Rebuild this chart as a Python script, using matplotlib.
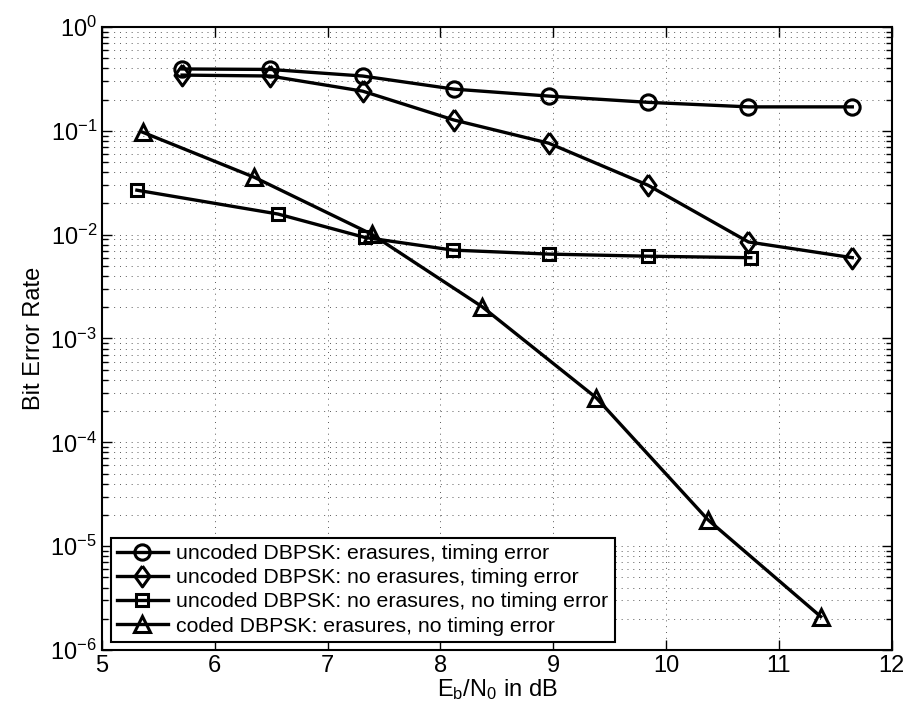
import matplotlib
matplotlib.use("Agg")
import matplotlib.pyplot as plt
from matplotlib.ticker import FixedLocator, NullFormatter, LogFormatterSciNotation

plt.rcParams["font.family"] = ["Liberation Sans", "DejaVu Sans"]
plt.rcParams["mathtext.default"] = "regular"

# Eb/N0 (dB) and BER per curve
x_uncoded_er_te = [5.71, 6.49, 7.31, 8.12, 8.96, 9.84, 10.73, 11.65]
ber_uncoded_er_te = [0.394, 0.390, 0.337, 0.252, 0.216, 0.188, 0.170, 0.170]

x_uncoded_noer_te = [5.71, 6.49, 7.31, 8.12, 8.96, 9.84, 10.73, 11.65]
ber_uncoded_noer_te = [0.344, 0.337, 0.241, 0.127, 0.076, 0.0299, 0.0085, 0.0060]

x_uncoded_noer_note = [5.31, 6.56, 7.33, 8.11, 8.96, 9.84, 10.75]
ber_uncoded_noer_note = [0.0268, 0.0158, 0.0094, 0.0071, 0.0065, 0.0062, 0.0060]

x_coded_er_note = [5.36, 6.35, 7.39, 8.37, 9.38, 10.37, 11.37]
ber_coded_er_note = [0.097, 0.0357, 0.0101, 0.00202, 2.69e-4, 1.80e-5, 2.1e-6]

x_ticks = [5, 6, 7, 8, 9, 10, 11, 12]
y_ticks = [1e-6, 1e-5, 1e-4, 1e-3, 1e-2, 1e-1, 1e0]

labels = [
    "uncoded DBPSK: erasures, timing error",
    "uncoded DBPSK: no erasures, timing error",
    "uncoded DBPSK: no erasures, no timing error",
    "coded DBPSK: erasures, no timing error",
]
# matlab-like diamond, a bit taller than wide
diamond = [(0, 1), (0.72, 0), (0, -1), (-0.72, 0), (0, 1)]
markers = ["o", diamond, "s", "^"]
sizes = [11, 15, 9, 12]

fig = plt.figure(figsize=(9.1, 7.17), dpi=100)
ax = fig.add_axes([0.112, 0.0934, 0.868, 0.8690])

series = [
    (x_uncoded_er_te, ber_uncoded_er_te),
    (x_uncoded_noer_te, ber_uncoded_noer_te),
    (x_uncoded_noer_note, ber_uncoded_noer_note),
    (x_coded_er_note, ber_coded_er_note),
]
for (xs, ys), m, lab, ms in zip(series, markers, labels, sizes):
    ax.semilogy(xs, ys, color="black", lw=2.4, marker=m, ms=ms,
                mfc="none", mec="black", mew=2.2, label=lab)

ax.set_xlim(5, 12)
ax.set_ylim(1e-6, 1)
ax.set_xticks(x_ticks)
ax.yaxis.set_major_locator(FixedLocator(y_ticks))
ax.yaxis.set_major_formatter(LogFormatterSciNotation())
minor = [m * 10.0 ** e for e in range(-6, 0) for m in range(2, 10)]
ax.yaxis.set_minor_locator(FixedLocator(minor))
ax.yaxis.set_minor_formatter(NullFormatter())

grid_kw = dict(color="0.35", lw=0.7, dashes=(1, 5))
ax.grid(True, which="major", **grid_kw)
ax.grid(True, which="minor", axis="y", **grid_kw)
ax.set_axisbelow(True)
ax.tick_params(which="both", direction="in", top=True, right=True,
               labelsize=17, width=1.0)
ax.tick_params(which="major", length=7)
ax.tick_params(which="minor", length=4)
for sp in ax.spines.values():
    sp.set_linewidth(1.5)

ax.set_xlabel(r"$E_b/N_0$ in dB", fontsize=17, labelpad=0)
ax.set_ylabel("Bit Error Rate", fontsize=17)

leg = ax.legend(loc="lower left", bbox_to_anchor=(0.011, 0.013),
                borderaxespad=0, fontsize=15.3, handlelength=2.4,
                labelspacing=0.24, handletextpad=0.4, borderpad=0.3,
                fancybox=False, framealpha=1)
leg.get_frame().set_edgecolor("black")
leg.get_frame().set_linewidth(1.5)

fig.savefig("out.png", dpi=100)
